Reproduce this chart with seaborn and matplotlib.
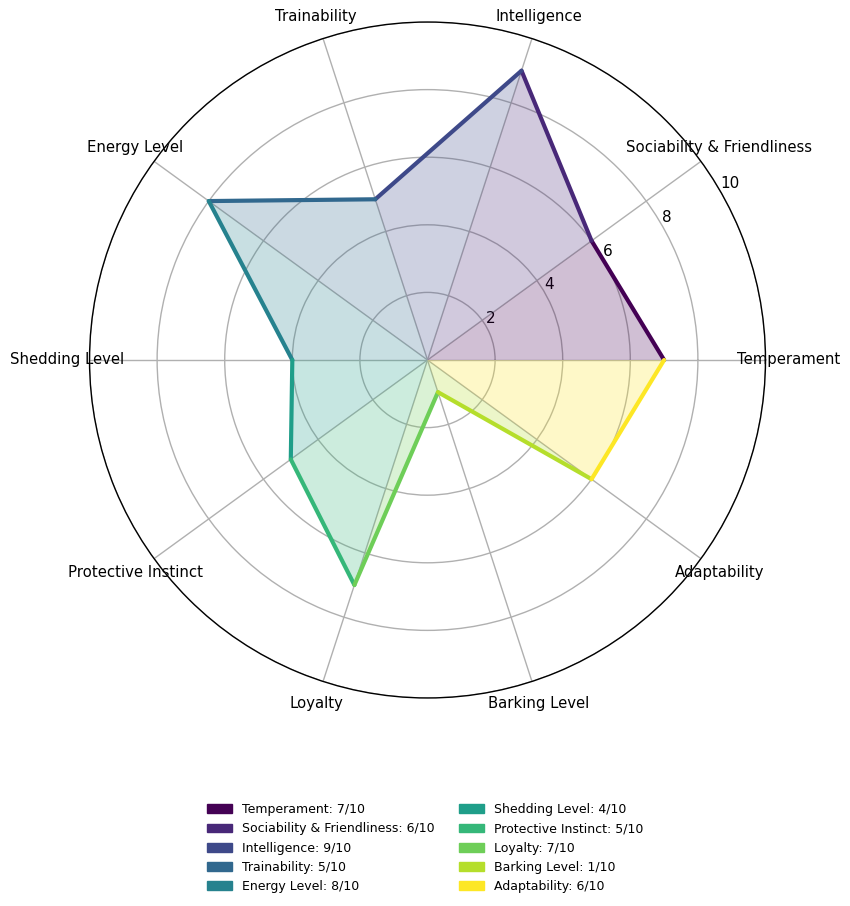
import numpy as np
import pandas as pd
import matplotlib
matplotlib.use("Agg")
import matplotlib.pyplot as plt
from matplotlib.patches import Patch
import seaborn as sns

categories = ["Temperament", "Sociability & Friendliness", "Intelligence", "Trainability",
              "Energy Level", "Shedding Level", "Protective Instinct", "Loyalty",
              "Barking Level", "Adaptability"]
values = [7, 6, 9, 5, 8, 4, 5, 7, 1, 6]
r_ticks = [2, 4, 6, 8, 10]

sns.set_style("white")
plt.rcParams['font.family'] = ['DejaVu Sans']
for k in ['text.color', 'xtick.color', 'ytick.color', 'axes.labelcolor']:
    plt.rcParams[k] = 'black'

n = len(categories)
angles = np.linspace(0, 2 * np.pi, n, endpoint=False)
colors = plt.cm.viridis(np.linspace(0, 1, n))

fig = plt.figure(figsize=(8.5, 9.06), dpi=100)
ax = fig.add_axes([0.1053, 0.2296, 0.7953, 0.7461], projection='polar')

for i in range(n):
    j = (i + 1) % n
    t = [angles[i], angles[j]]
    r = [values[i], values[j]]
    ax.fill([0, angles[i], angles[j]], [0, values[i], values[j]],
            color=colors[i], alpha=0.25, linewidth=0)
    df = pd.DataFrame({"theta": t, "r": r})
    sns.lineplot(data=df, x="theta", y="r", ax=ax, color=colors[i],
                 linewidth=3, sort=False, legend=False)

ax.set_ylim(0, 10)
ax.set_yticks(r_ticks)
ax.set_yticklabels([str(v) for v in r_ticks], fontsize=11)
ax.set_rlabel_position(30)
ax.set_xticks(angles)
ax.set_xticklabels(categories, fontsize=10.7)
ax.set_xlabel("")
ax.set_ylabel("")
ax.grid(True, color="#b0b0b0", linewidth=1)
ax.spines['polar'].set_color('black')
ax.spines['polar'].set_linewidth(1)
ax.tick_params(axis='x', pad=6)

handles = [Patch(facecolor=colors[i], edgecolor=colors[i],
                 label=f"{categories[i]}: {values[i]}/10") for i in range(n)]
fig.legend(handles=handles, loc='upper center', bbox_to_anchor=(0.5, 0.126),
           ncol=2, frameon=False, fontsize=9)

fig.savefig("out.png", dpi=100)
